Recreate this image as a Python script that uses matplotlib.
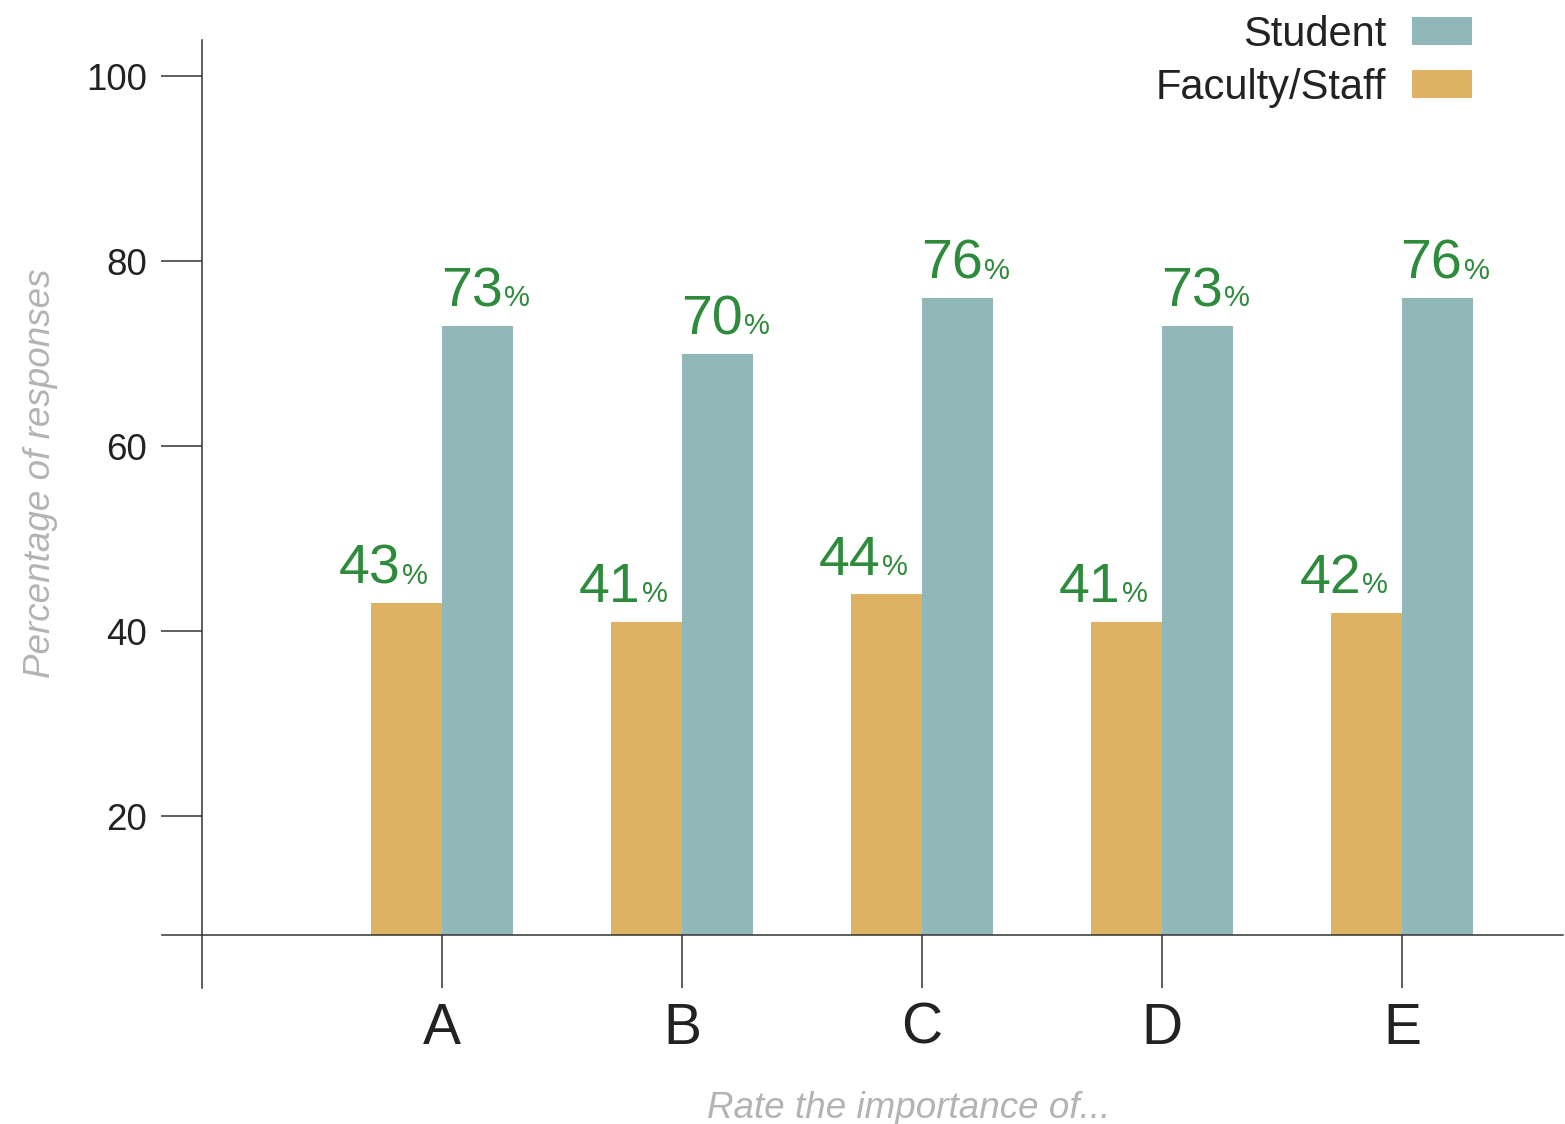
import matplotlib
matplotlib.use("Agg")
import matplotlib.pyplot as plt

# Survey results: share of respondents rating each item as important
categories = ["A", "B", "C", "D", "E"]
student = [73, 70, 76, 73, 76]
faculty = [43, 41, 44, 41, 42]
y_ticks = [20, 40, 60, 80, 100]

STUDENT_COLOR = "#91b8b9"
FACULTY_COLOR = "#ddb263"
VALUE_COLOR = "#2e8b3b"
AXIS_COLOR = "#333333"
TEXT_COLOR = "#222222"
LABEL_COLOR = "#b3b3b6"

plt.rcParams["font.family"] = ["Liberation Sans", "DejaVu Sans"]

W, H = 1565, 1124
fig = plt.figure(figsize=(W / 100, H / 100), dpi=100)
ax = fig.add_axes([162 / W, 1 - 935 / H, 1401 / W, 895 / H])

width = 0.296
xs = list(range(len(categories)))
fac_bars = ax.bar([i - width / 2 for i in xs], faculty, width=width,
                  color=FACULTY_COLOR, label="Faculty/Staff", zorder=2)
stu_bars = ax.bar([i + width / 2 for i in xs], student, width=width,
                  color=STUDENT_COLOR, label="Student", zorder=2)

ax.set_xlim(-1.167, 4.671)
ax.set_ylim(7.14, 103.9)

# value labels: big number followed by a small percent sign
def add_value(xc, val, dx):
    ax.annotate(f"{val}", xy=(xc, val), xytext=(dx, 14), textcoords="offset points",
                ha="right", va="baseline", fontsize=40, color=VALUE_COLOR)
    ax.annotate("%", xy=(xc, val), xytext=(dx + 1, 14), textcoords="offset points",
                ha="left", va="baseline", fontsize=21, color=VALUE_COLOR)

for i in xs:
    add_value(i - width / 2, faculty[i], -4)
    add_value(i + width / 2, student[i], 18)

# axes styling
for side in ("top", "right"):
    ax.spines[side].set_visible(False)
for side in ("left", "bottom"):
    ax.spines[side].set_color(AXIS_COLOR)
    ax.spines[side].set_linewidth(1.1)
ax.spines["left"].set_position(("data", -1))
ax.spines["left"].set_bounds(1.41, 103.9)

ax.set_yticks(y_ticks)
ax.set_yticklabels([str(t) for t in y_ticks])
ax.set_xticks(xs)
ax.set_xticklabels(categories)
ax.tick_params(axis="y", length=29.5, width=1.1, color=AXIS_COLOR,
               labelsize=26.5, labelcolor=TEXT_COLOR, pad=10)
ax.tick_params(axis="x", length=38, width=1.1, color=AXIS_COLOR,
               labelsize=41, labelcolor=TEXT_COLOR, pad=10)

ax.set_xlabel("Rate the importance of...", fontsize=26.5, style="italic",
              color=LABEL_COLOR, va="center")
ax.xaxis.set_label_coords(0.533, -0.194)
ax.set_ylabel("Percentage of responses", fontsize=26.5, style="italic",
              color=LABEL_COLOR, va="center")
ax.yaxis.set_label_coords(-0.0864, 0.516)

leg = ax.legend(handles=[stu_bars, fac_bars], labels=["Student", "Faculty/Staff"],
                loc="upper right", bbox_to_anchor=(1472 / W, 1 - 15 / H),
                bbox_transform=fig.transFigure, frameon=False, markerfirst=False,
                fontsize=30, handlelength=1.45, handleheight=0.65,
                handletextpad=0.6, labelspacing=0.3, borderpad=0, borderaxespad=0)
for t in leg.get_texts():
    t.set_color(TEXT_COLOR)

fig.savefig("out.png", dpi=100)
